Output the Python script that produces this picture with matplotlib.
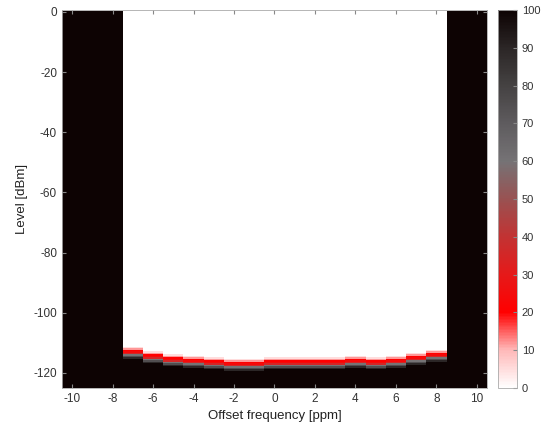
import numpy as np
import matplotlib
matplotlib.use("Agg")
import matplotlib.pyplot as plt
from matplotlib.colors import LinearSegmentedColormap

plt.rcParams['font.family'] = ['Liberation Sans', 'DejaVu Sans']
plt.rcParams['axes.unicode_minus'] = False

# offset frequency columns [ppm] and the level of the noise floor (red band) in each
freqs = np.arange(-10, 11)
floor_db = [np.nan, np.nan, np.nan,
            -113.0, -114.5, -115.5, -116.0, -116.5, -117.0, -117.0, -116.5,
            -116.5, -116.5, -116.5, -116.0, -116.5, -116.0, -115.0, -114.0, -112.5,
            np.nan, np.nan]
floor_db = floor_db[:3] + floor_db[3:19] + floor_db[20:]

# persistence [%] around the floor, offset in dB above the floor
profile_offset = [1.5, 1.0, 0.5, 0.0, -0.5, -1.0, -1.5, -2.0]
profile_value = [5, 12, 20, 24, 35, 60, 75, 90]

levels = np.arange(-125.0, 0.5, 0.5)

grid = np.zeros((len(levels), len(freqs)))
lookup = dict(zip(profile_offset, profile_value))
for j, f in enumerate(floor_db):
    for i, lv in enumerate(levels):
        if np.isnan(f):
            grid[i, j] = 100
            continue
        d = round((lv - f) * 2) / 2
        if d > max(profile_offset):
            grid[i, j] = 0
        elif d < min(profile_offset):
            grid[i, j] = 100
        else:
            grid[i, j] = lookup[d]

cmap = LinearSegmentedColormap.from_list("persist", [
    (0.00, (1.0, 1.0, 1.0)),
    (0.10, (1.0, 0.72, 0.72)),
    (0.20, (1.0, 0.0, 0.0)),
    (0.30, (0.90, 0.10, 0.10)),
    (0.40, (0.76, 0.20, 0.20)),
    (0.50, (0.60, 0.32, 0.32)),
    (0.60, (0.46, 0.45, 0.46)),
    (0.70, (0.37, 0.36, 0.37)),
    (0.80, (0.27, 0.26, 0.26)),
    (0.90, (0.17, 0.15, 0.15)),
    (1.00, (0.05, 0.01, 0.01)),
])

fig = plt.figure(figsize=(5.47, 4.36), dpi=100)
ax = fig.add_axes([0.1133, 0.110, 0.777, 0.867])
cax = fig.add_axes([0.910, 0.110, 0.035, 0.867])

x_edges = np.arange(-10.5, 11.0, 1.0)
y_edges = np.append(levels - 0.25, levels[-1] + 0.25)
mesh = ax.pcolormesh(x_edges, y_edges, grid, cmap=cmap, vmin=0, vmax=100)

ax.set_xlim(-10.5, 10.5)
ax.set_ylim(-125, 0.6)
ax.set_xticks(np.arange(-10, 11, 2))
ax.set_yticks(np.arange(-120, 1, 20))
ax.tick_params(direction='in', length=3, color='#888888', labelsize=8.5,
               labelcolor='#333333', top=True, right=True)
for s in ax.spines.values():
    s.set_color('#aaaaaa')
    s.set_linewidth(0.6)
ax.set_xlabel("Offset frequency [ppm]", fontsize=9.5, color='#222222')
ax.set_ylabel("Level [dBm]", fontsize=9.5, color='#222222')

cb = fig.colorbar(mesh, cax=cax)
cb.set_ticks(np.arange(0, 101, 10))
cb.ax.tick_params(direction='in', length=3, color='#888888', labelsize=8,
                  labelcolor='#333333')
cb.outline.set_edgecolor('#aaaaaa')
cb.outline.set_linewidth(0.6)

fig.savefig("out.png", dpi=100)
